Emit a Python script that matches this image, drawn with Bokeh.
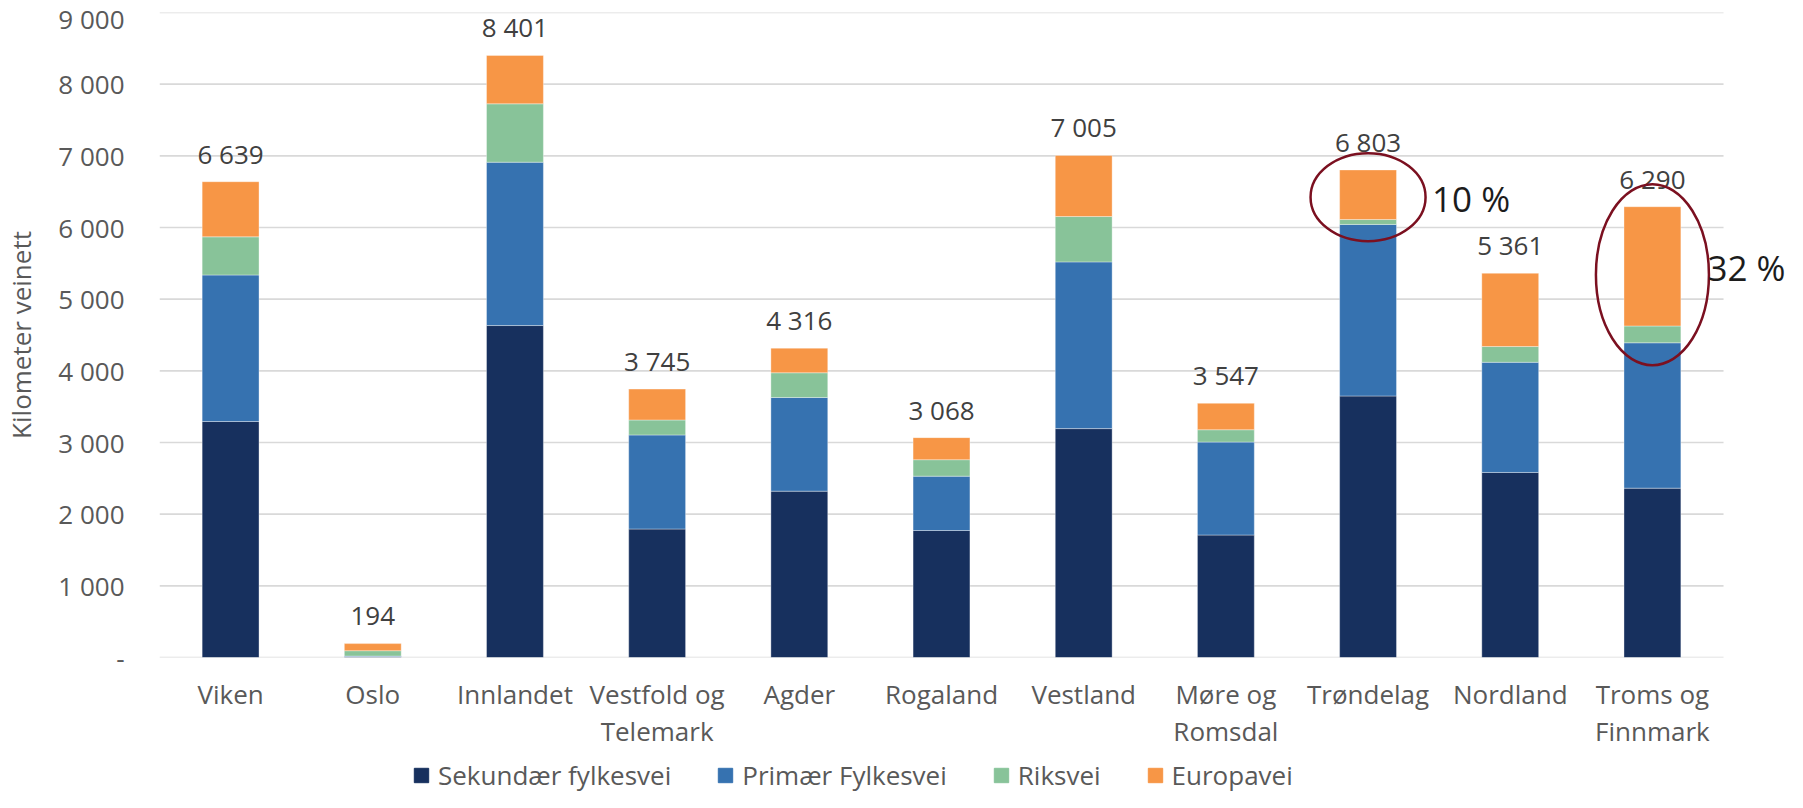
from bokeh.plotting import figure
from bokeh.layouts import column
from bokeh.models import (ColumnDataSource, Range1d, Legend, LegendItem, FixedTicker)
from bokeh.core.properties import value
from bokeh.embed import file_html
from bokeh.resources import INLINE

# ---------------- data ----------------
regions = ["Viken", "Oslo", "Innlandet", "Vestfold og\nTelemark", "Agder", "Rogaland",
           "Vestland", "Møre og\nRomsdal", "Trøndelag", "Nordland", "Troms og\nFinnmark"]
sekundaer = [3293, 12, 4632, 1793, 2321, 1772, 3194, 1709, 3649, 2582, 2363]
primaer = [2044, 8, 2279, 1312, 1307, 758, 2326, 1297, 2394, 1537, 2028]
riksvei = [533, 75, 815, 209, 345, 230, 633, 172, 68, 220, 235]
europavei = [769, 99, 675, 431, 343, 308, 852, 369, 692, 1022, 1664]
series_keys = ["sek", "prim", "riks", "euro"]
series_names = ["Sekundær fylkesvei", "Primær Fylkesvei", "Riksvei", "Europavei"]
y_ticks = [0, 1000, 2000, 3000, 4000, 5000, 6000, 7000, 8000, 9000]
y_tick_labels = ["-", "1 000", "2 000", "3 000", "4 000", "5 000", "6 000", "7 000", "8 000", "9 000"]
y_title = "Kilometer veinett"
highlight_regions = ["Trøndelag", "Troms og\nFinnmark"]
highlight_labels = ["10 %", "32 %"]

# ---------------- styles ----------------
colors = ["#17305e", "#3672b0", "#88c399", "#f79646"]
FONT = "Open Sans"
GRID = "#d9d9d9"
TXT = "#595959"
W = 1787
MAIN_H = 752
LEG_H = 40

pos = list(range(len(regions)))
totals = [a + b + c + d for a, b, c, d in zip(sekundaer, primaer, riksvei, europavei)]
total_labels = [f"{t:,}".replace(",", " ") for t in totals]

src = ColumnDataSource(dict(pos=pos, sek=sekundaer, prim=primaer, riks=riksvei,
                            euro=europavei, total=totals, total_label=total_labels))

x_lo, x_hi = -0.5, len(regions) - 0.5
p = figure(width=W, height=MAIN_H, x_range=Range1d(x_lo, x_hi + 0.45),
           y_range=Range1d(y_ticks[0], y_ticks[-1]),
           output_backend="svg", toolbar_location=None,
           min_border_left=151, min_border_right=0, min_border_top=12, min_border_bottom=10)
p.outline_line_color = None
p.background_fill_color = "white"
p.xgrid.grid_line_color = None
p.ygrid.grid_line_color = None

# horizontal gridlines spanning only the category area
p.segment(x0=[x_lo] * len(y_ticks), x1=[x_hi] * len(y_ticks), y0=y_ticks, y1=y_ticks,
          line_color=GRID, line_width=1.6)

renderers = p.vbar_stack(series_keys, x="pos", width=0.4, source=src, color=colors,
                         line_color="white", line_alpha=0.35, line_width=1)

# total labels
p.text(x="pos", y="total", text="total_label", source=src, text_align="center",
       text_baseline="alphabetic", y_offset=-28, text_font=value(FONT),
       text_font_size="26px", text_color="#404040")

# highlight ellipses and percentages
idx = [regions.index(r) for r in highlight_regions]
ell_y = [primaer[i] + sekundaer[i] + (riksvei[i] + europavei[i]) / 2 for i in idx]
p.ellipse(x=idx, y=ell_y, width=[115, 113], height=[88, 181],
          width_units="screen", height_units="screen", fill_alpha=0,
          line_color="#7b1020", line_width=2.5)
p.text(x=idx, y=ell_y, text=highlight_labels, x_offset=[64, 55],
       y_offset=[1, -7], text_align="left", text_baseline="middle",
       text_font=value(FONT), text_font_size="35px", text_color="#1c1c1c")

# axes
p.yaxis.ticker = FixedTicker(ticks=y_ticks)
p.yaxis.major_label_overrides = {t: l for t, l in zip(y_ticks, y_tick_labels)}
p.yaxis.axis_line_color = None
p.yaxis.major_tick_line_color = None
p.yaxis.minor_tick_line_color = None
p.yaxis.major_tick_out = 0
p.yaxis.major_label_standoff = 35
p.yaxis.major_label_text_font = FONT
p.yaxis.major_label_text_font_size = "26px"
p.yaxis.major_label_text_color = TXT
p.yaxis.axis_label = y_title
p.yaxis.axis_label_text_font = FONT
p.yaxis.axis_label_text_font_style = "normal"
p.yaxis.axis_label_text_font_size = "26px"
p.yaxis.axis_label_text_color = TXT
p.yaxis.axis_label_standoff = 16

p.xaxis.ticker = FixedTicker(ticks=pos)
p.xaxis.major_label_overrides = {i: r for i, r in zip(pos, regions)}
p.xaxis.axis_line_color = None
p.xaxis.major_tick_line_color = None
p.xaxis.minor_tick_line_color = None
p.xaxis.major_tick_out = 0
p.xaxis.major_label_standoff = 18
p.xaxis.major_label_text_font = FONT
p.xaxis.major_label_text_font_size = "26px"
p.xaxis.major_label_text_color = TXT
p.xaxis.major_label_text_line_height = 1.05

# ---------------- legend strip ----------------
pl = figure(width=W, height=LEG_H, x_range=Range1d(0, 1), y_range=Range1d(0, 1),
            x_axis_type=None, y_axis_type=None,
            output_backend="svg", toolbar_location=None,
            min_border_left=0, min_border_right=0, min_border_top=0, min_border_bottom=0)
pl.grid.visible = False
pl.outline_line_color = None
# placeholder bars lie outside the strip's visible range; they only feed the legend swatches
leg_src = ColumnDataSource(dict(x=[5.0], top=[1.0]))
leg_renderers = [pl.vbar(x="x", top="top", width=0.1, source=leg_src, color=c) for c in colors]
legend = Legend(items=[LegendItem(label=n, renderers=[r]) for n, r in zip(series_names, leg_renderers)],
                orientation="horizontal", location=(253, -1), padding=0, margin=0,
                border_line_alpha=0, background_fill_alpha=0,
                glyph_width=18, glyph_height=18, label_standoff=8, spacing=45,
                label_text_font=FONT, label_text_font_size="26px", label_text_color=TXT)
pl.add_layout(legend)

layout = column(p, pl, spacing=0)
open("out.html", "w").write(file_html(layout, INLINE))
